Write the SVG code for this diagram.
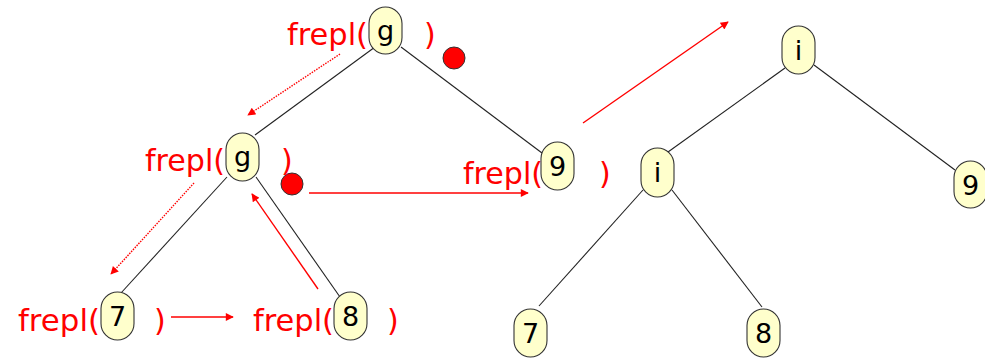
<svg xmlns="http://www.w3.org/2000/svg" width="985" height="358" viewBox="0 0 985 358">
  <defs>
    <style>
      .edge { stroke: #222; stroke-width: 1.1; fill: none; }
      .flow { stroke: #ff0000; stroke-width: 1.4; fill: none; marker-end: url(#tip); }
      .dotted { stroke: #ff0000; stroke-width: 1.4; fill: none; stroke-dasharray: 1.5 1.2; marker-end: url(#tip); }
      .pill { fill: #ffffcc; stroke: #333; stroke-width: 1.1; }
      .key { font-family: "DejaVu Sans", "Liberation Sans", sans-serif; font-size: 27px; fill: #000; text-anchor: middle; }
      .call { font-family: "DejaVu Sans", "Liberation Sans", sans-serif; font-size: 30px; fill: #ff0000; }
      .dot { fill: #ff0000; stroke: #333; stroke-width: 1; }
    </style>
    <marker id="tip" viewBox="0 0 10 10" refX="9" refY="5" markerWidth="10" markerHeight="8" markerUnits="userSpaceOnUse" orient="auto">
      <path d="M0,0 L10,5 L0,10 z" fill="#ff0000"/>
    </marker>
  </defs>

  <!-- tree edges -->
  <g id="connectors">
    <line class="edge" x1="375" y1="47" x2="255" y2="135"/>
    <line class="edge" x1="401" y1="47" x2="542" y2="153"/>
    <line class="edge" x1="227" y1="177" x2="121" y2="293"/>
    <line class="edge" x1="256" y1="177" x2="340" y2="297"/>
    <line class="edge" x1="785" y1="68" x2="668" y2="152"/>
    <line class="edge" x1="814" y1="65" x2="955" y2="170"/>
    <line class="edge" x1="643" y1="190" x2="539" y2="306"/>
    <line class="edge" x1="672" y1="190" x2="762" y2="307"/>

    <!-- call-flow arrows -->
    <line class="dotted" x1="340" y1="54" x2="248" y2="115"/>
    <line class="dotted" x1="194" y1="183" x2="111" y2="274"/>
    <line class="flow" x1="318" y1="289" x2="252" y2="194"/>
    <line class="flow" x1="171" y1="317" x2="233" y2="317"/>
    <line class="flow" x1="309" y1="193" x2="528" y2="193"/>
    <line class="flow" x1="583" y1="123" x2="728" y2="22"/>
  </g>

  <!-- markers of finished calls -->
  <circle class="dot" cx="454" cy="58" r="11"/>
  <circle class="dot" cx="292" cy="184" r="11"/>

  <!-- call labels -->
  <text class="call" x="287" y="45" textLength="81" lengthAdjust="spacingAndGlyphs">frepl(</text>
  <text class="call" x="424" y="45">)</text>
  <text class="call" x="145" y="171" textLength="80" lengthAdjust="spacingAndGlyphs">frepl(</text>
  <text class="call" x="281" y="171">)</text>
  <text class="call" x="18" y="331" textLength="82" lengthAdjust="spacingAndGlyphs">frepl(</text>
  <text class="call" x="154" y="331">)</text>
  <text class="call" x="253" y="331" textLength="81" lengthAdjust="spacingAndGlyphs">frepl(</text>
  <text class="call" x="387" y="331">)</text>
  <text class="call" x="463" y="184" textLength="80" lengthAdjust="spacingAndGlyphs">frepl(</text>
  <text class="call" x="599" y="184">)</text>

  <!-- left tree nodes -->
  <g id="node-g-root">
    <rect class="pill" x="369" y="7" width="33" height="47" rx="16.5"/>
    <text class="key" x="385.5" y="40">g</text>
  </g>
  <g id="node-g-left">
    <rect class="pill" x="226" y="133" width="33" height="48" rx="16.5"/>
    <text class="key" x="242.5" y="166">g</text>
  </g>
  <g id="node-7-left">
    <rect class="pill" x="101" y="292" width="33" height="48" rx="16.5"/>
    <text class="key" x="117.5" y="326">7</text>
  </g>
  <g id="node-8-left">
    <rect class="pill" x="334" y="292" width="33" height="48" rx="16.5"/>
    <text class="key" x="350.5" y="326">8</text>
  </g>
  <g id="node-9-left">
    <rect class="pill" x="541" y="142" width="33" height="48" rx="16.5"/>
    <text class="key" x="557.5" y="176">9</text>
  </g>

  <!-- right tree nodes -->
  <g id="node-i-root">
    <rect class="pill" x="782" y="26" width="33" height="48" rx="16.5"/>
    <text class="key" x="798.5" y="60">i</text>
  </g>
  <g id="node-i-left">
    <rect class="pill" x="641" y="148" width="33" height="49" rx="16.5"/>
    <text class="key" x="657.5" y="182">i</text>
  </g>
  <g id="node-7-right">
    <rect class="pill" x="514" y="309" width="33" height="48" rx="16.5"/>
    <text class="key" x="530.5" y="343">7</text>
  </g>
  <g id="node-8-right">
    <rect class="pill" x="747" y="309" width="33" height="48" rx="16.5"/>
    <text class="key" x="763.5" y="343">8</text>
  </g>
  <g id="node-9-right">
    <rect class="pill" x="954" y="161" width="33" height="47" rx="16.5"/>
    <text class="key" x="970.5" y="195">9</text>
  </g>
</svg>
